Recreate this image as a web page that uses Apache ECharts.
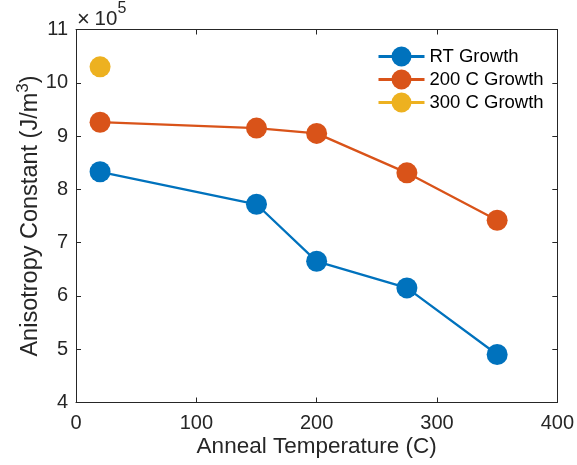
<!DOCTYPE html>
<html>
<head>
<meta charset="utf-8">
<script src="https://cdn.jsdelivr.net/npm/echarts@6/dist/echarts.min.js"></script>
<style>
  html, body { margin: 0; padding: 0; background: #fff; }
  #chart { width: 577px; height: 465px; }
</style>
</head>
<body>
<div id="chart"></div>
<script>
// Anneal temperature (C) for each sample
const rtTemps = [20, 150, 200, 275, 350];
const growth200Temps = [20, 150, 200, 275, 350];
const growth300Temps = [20];

// Anisotropy constant, in units of 1e5 J/m^3
const rtValues = [8.33, 7.72, 6.65, 6.15, 4.9];
const growth200Values = [9.26, 9.15, 9.05, 8.31, 7.42];
const growth300Values = [10.3];

const seriesNames = ['RT Growth', '200 C Growth', '300 C Growth'];
const seriesColors = ['#0072BD', '#D95319', '#EDB120'];

const xTicks = [0, 100, 200, 300, 400];
const yTicks = [4, 5, 6, 7, 8, 9, 10, 11];

const FONT = 'Liberation Sans, Arial, Helvetica, sans-serif';
const INK = '#262626';

const pairs = (xs, ys) => xs.map((x, i) => [x, ys[i]]);

const chart = echarts.init(document.getElementById('chart'), null, { renderer: 'canvas' });

const axisBase = {
  axisLine: { show: true, onZero: false, lineStyle: { color: INK, width: 1 } },
  axisTick: { show: true, inside: true, length: 5, lineStyle: { color: INK, width: 1 } },
  splitLine: { show: false }
};

function lineSeries(name, data, color) {
  return {
    name: name,
    type: 'line',
    data: data,
    symbol: 'circle',
    symbolSize: 21,
    showSymbol: true,
    lineStyle: { color: color, width: 2.3 },
    itemStyle: { color: color },
    emphasis: { disabled: true },
    animation: false
  };
}

chart.setOption({
  animation: false,
  backgroundColor: '#ffffff',
  grid: { left: 76, right: 18.5, top: 29.5, bottom: 62.5, containLabel: false },
  legend: {
    show: true,
    orient: 'vertical',
    left: 372,
    top: 41.5,
    itemWidth: 46,
    itemHeight: 25,
    itemGap: 3,
    data: seriesNames,
    lineStyle: { width: 3 },
    textStyle: { fontFamily: FONT, fontSize: 18.5, color: '#000' },
    backgroundColor: 'transparent'
  },
  xAxis: [
    Object.assign({}, axisBase, {
      type: 'value',
      position: 'bottom',
      min: 0, max: 400, interval: 100,
      axisLabel: {
        show: true, margin: 11, fontFamily: FONT, fontSize: 20, color: INK,
        formatter: v => xTicks.includes(v) ? String(v) : ''
      },
      name: 'Anneal Temperature (C)',
      nameLocation: 'middle',
      nameMoveOverlap: false,
      nameGap: 32.5,
      nameTextStyle: { fontFamily: FONT, fontSize: 22.5, color: INK }
    }),
    Object.assign({}, axisBase, {
      type: 'value',
      position: 'top',
      min: 0, max: 400, interval: 100,
      axisLabel: { show: false }
    })
  ],
  yAxis: [
    Object.assign({}, axisBase, {
      type: 'value',
      position: 'left',
      min: 4, max: 11, interval: 1,
      axisLabel: {
        show: true, margin: 8, fontFamily: FONT, fontSize: 20, color: INK,
        formatter: v => yTicks.includes(v) ? String(v) : ''
      },
      name: '{a|Anisotropy Constant (J/m}{s|3}{a|)}',
      nameLocation: 'middle',
      nameMoveOverlap: false,
      nameGap: 33,
      nameTextStyle: {
        fontFamily: FONT, fontSize: 23.5, color: INK,
        rich: {
          a: { fontFamily: FONT, fontSize: 23.5, lineHeight: 28, color: INK, verticalAlign: 'bottom' },
          s: { fontFamily: FONT, fontSize: 17, lineHeight: 17, color: INK, verticalAlign: 'top' }
        }
      }
    }),
    Object.assign({}, axisBase, {
      type: 'value',
      position: 'right',
      min: 4, max: 11, interval: 1,
      axisLabel: { show: false }
    })
  ],
  graphic: [
    // exponent label for the y axis: ×10^5
    {
      type: 'text', x: 77, y: 20,
      style: { text: '×', fontFamily: FONT, fontSize: 22, fill: INK, verticalAlign: 'middle', align: 'left' }
    },
    {
      type: 'text', x: 94.5, y: 19.5,
      style: { text: '10', fontFamily: FONT, fontSize: 20.5, fill: INK, verticalAlign: 'middle', align: 'left' }
    },
    {
      type: 'text', x: 117.5, y: 9,
      style: { text: '5', fontFamily: FONT, fontSize: 16, fill: INK, verticalAlign: 'middle', align: 'left' }
    }
  ],
  series: [
    lineSeries(seriesNames[0], pairs(rtTemps, rtValues), seriesColors[0]),
    lineSeries(seriesNames[1], pairs(growth200Temps, growth200Values), seriesColors[1]),
    lineSeries(seriesNames[2], pairs(growth300Temps, growth300Values), seriesColors[2])
  ]
});
</script>
</body>
</html>
